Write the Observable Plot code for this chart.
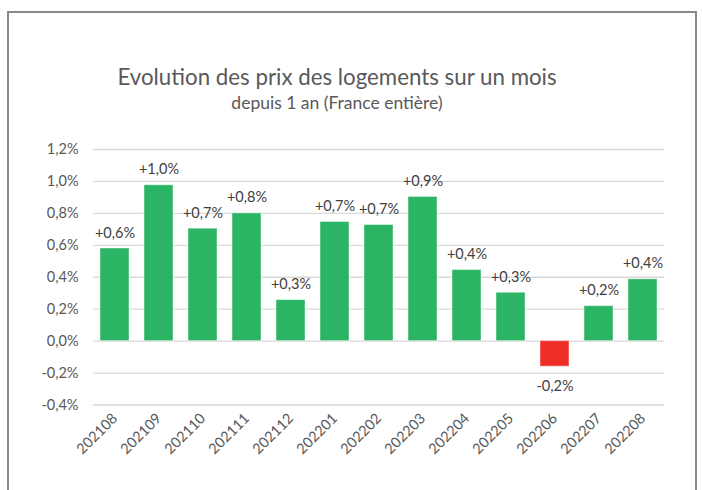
<!DOCTYPE html>
<html>
<head>
<meta charset="utf-8">
<script src="https://cdn.jsdelivr.net/npm/d3@7"></script>
<script src="https://cdn.jsdelivr.net/npm/@observablehq/plot@0.6"></script>
<style>
  html, body { margin: 0; padding: 0; background: #fff; }
  #wrap { position: relative; width: 702px; height: 490px; overflow: hidden; font-family: Lato, "Open Sans", sans-serif; }
  #frame { position: absolute; left: 7px; top: 11px; width: 690px; height: 500px; border: 2px solid #8f8782; border-bottom: none; box-sizing: border-box; }
  .title { position: absolute; width: 600px; left: 37px; text-align: center; color: #595959; white-space: nowrap; }
  #t1 { top: 63px; font-size: 22.3px; }
  #t2 { top: 92px; font-size: 17.5px; }
  #chart { position: absolute; left: 0; top: 0; }
</style>
</head>
<body>
<div id="wrap">
  <div id="frame"></div>
  <div id="chart"></div>
  <div class="title" id="t1">Evolution des prix des logements sur un mois</div>
  <div class="title" id="t2">depuis 1 an (France entière)</div>
</div>
<script>
const months = ["202108","202109","202110","202111","202112","202201","202202","202203","202204","202205","202206","202207","202208"];
const values = [0.58, 0.976, 0.704, 0.80, 0.257, 0.746, 0.727, 0.903, 0.445, 0.303, -0.16, 0.219, 0.387];
const yTicks = [-0.4, -0.2, 0, 0.2, 0.4, 0.6, 0.8, 1.0, 1.2];

const data = months.map((m, i) => ({month: m, value: values[i]}));
const fmtTick = v => v.toFixed(1).replace(".", ",") + "%";
const fmtLabel = v => (v >= 0 ? "+" : "-") + Math.abs(v).toFixed(1).replace(".", ",") + "%";

const chart = Plot.plot({
  width: 702,
  height: 490,
  marginLeft: 93,
  marginRight: 38,
  marginTop: 149,
  marginBottom: 85.5,
  style: {fontFamily: "Lato, 'Open Sans', sans-serif", fontSize: "14px", color: "#595959", background: "transparent"},
  x: {domain: months, paddingInner: 0.34, paddingOuter: 0.158, label: null},
  y: {domain: [-0.4, 1.2], label: null},
  marks: [
    Plot.ruleY(yTicks, {stroke: "#d9d9d9", strokeWidth: 1.3}),
    Plot.barY(data, {
      x: "month", y: "value",
      fill: d => d.value < 0 ? "#ee2f27" : "#2bb463",
      stroke: "#ffffff", strokeOpacity: 0.45, strokeWidth: 1
    }),
    Plot.text(data.filter(d => d.value >= 0), {
      x: "month", y: "value", text: d => fmtLabel(d.value),
      dy: -11, lineAnchor: "bottom", fill: "#404040", fontSize: 14.5
    }),
    Plot.text(data.filter(d => d.value < 0), {
      x: "month", y: "value", text: d => fmtLabel(d.value),
      dy: 14, lineAnchor: "top", fill: "#404040", fontSize: 14.5
    }),
    Plot.axisY(yTicks, {tickFormat: fmtTick, tickSize: 0, tickPadding: 15, fill: "#595959", fontSize: 14.5}),
    Plot.axisX({tickSize: 0, tickRotate: -45, tickPadding: 11, fill: "#595959", fontSize: 14.5})
  ]
});
document.getElementById("chart").appendChild(chart);
</script>
</body>
</html>
